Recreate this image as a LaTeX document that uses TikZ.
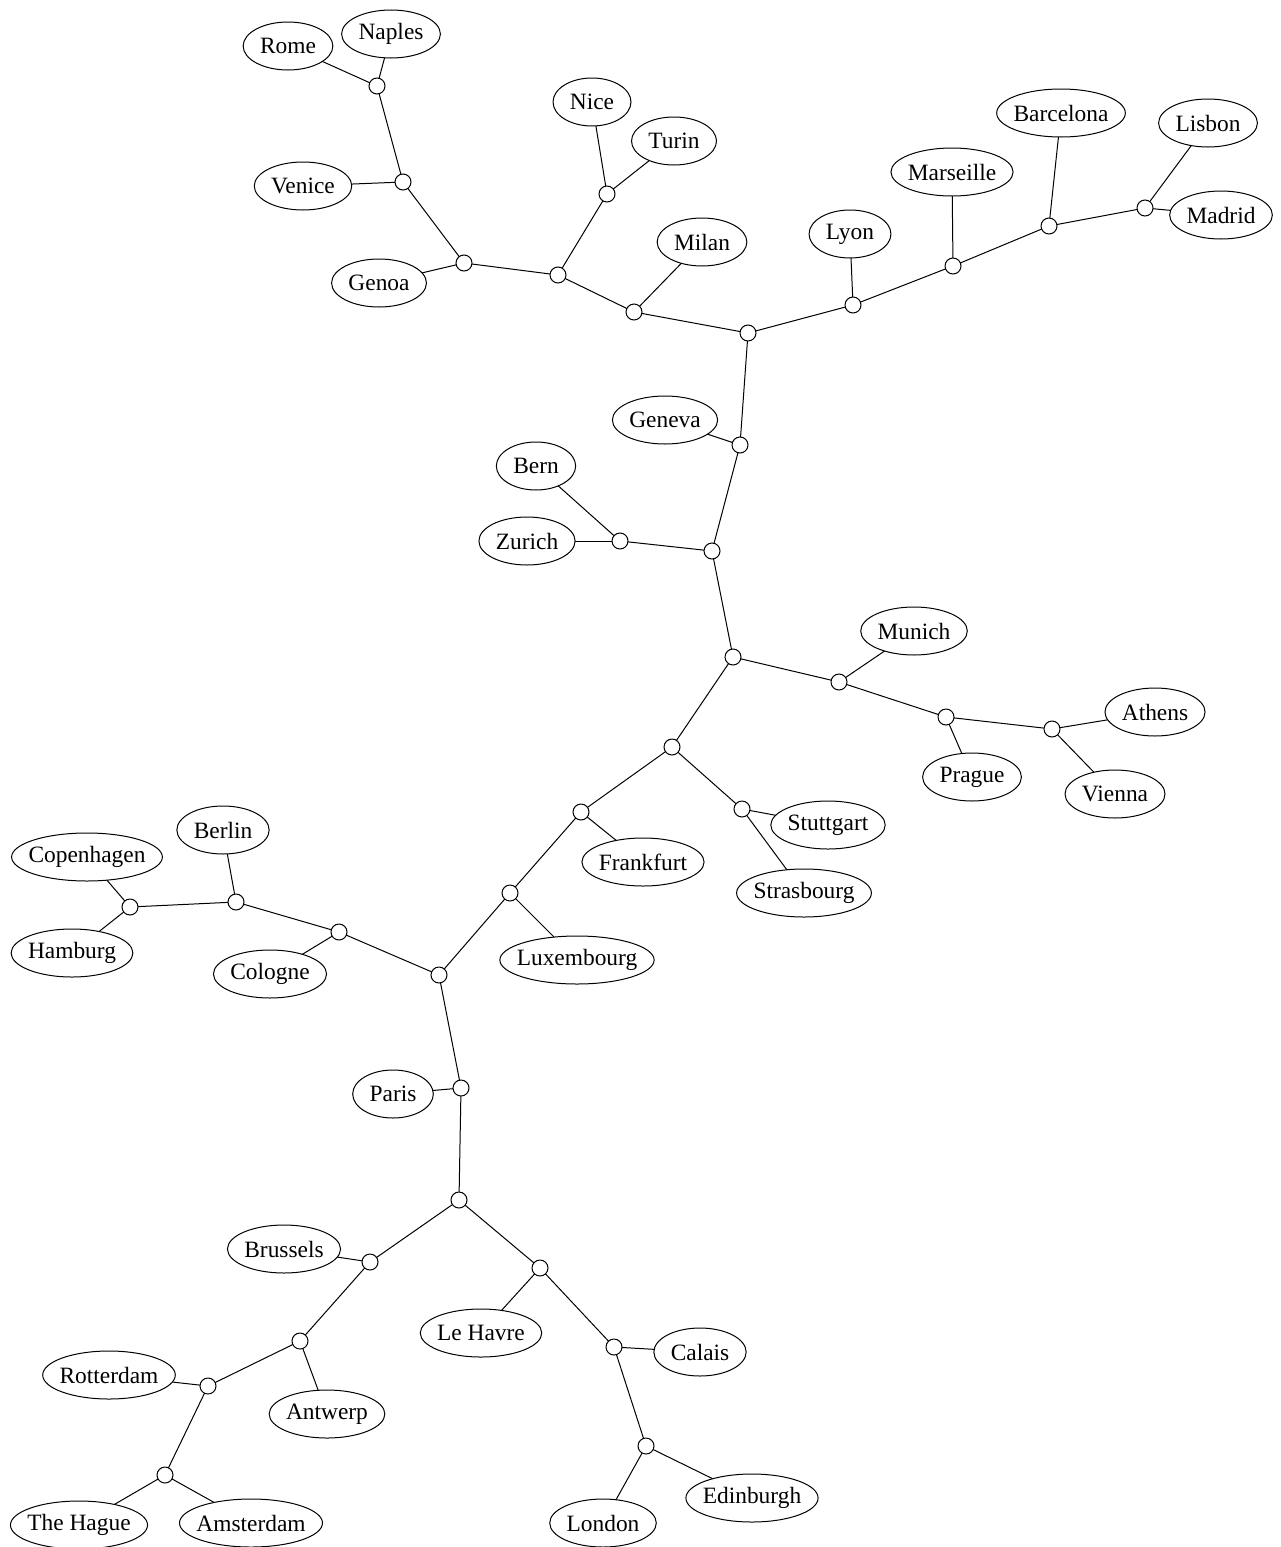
\documentclass[tikz,border=0pt]{standalone}
\usepackage{fontspec}
\setmainfont{Liberation Serif}
\usetikzlibrary{calc}
\pgfdeclarelayer{edges}
\pgfdeclarelayer{rims}
\pgfsetlayers{edges,rims,main}
\begin{document}
\begin{tikzpicture}[x=0.5pt,y=-0.5pt,
  cityst/.style={rectangle, inner xsep=8.25pt, inner ysep=0pt,
     minimum height=24pt, font=\fontsize{11.7pt}{14pt}\selectfont},
  rim/.style={draw, fill=white, line width=0.5pt},
  junc/.style={circle, draw, fill=white, line width=0.5pt, inner sep=0pt, minimum size=8pt},
  link/.style={line width=0.5pt}]
\useasboundingbox (0,0) rectangle (1280,1547);
% cities
\foreach \nm/\pos/\txt in {rome/{288,46}/Rome, naples/{391,34}/Naples, venice/{303,186}/Venice,
  genoa/{379,283}/Genoa, nice/{592,102}/Nice, turin/{674,141}/Turin, milan/{702,242}/Milan,
  lyon/{850,234}/Lyon, marseille/{952,172}/Marseille, barcelona/{1061,113}/Barcelona,
  lisbon/{1208,123}/Lisbon, madrid/{1221,215}/Madrid, geneva/{665,420}/Geneva,
  bern/{536,466}/Bern, zurich/{527,541}/Zurich, munich/{914,631}/Munich,
  athens/{1155,712}/Athens, prague/{972,777}/Prague, vienna/{1115,794}/Vienna,
  stuttgart/{828,825}/Stuttgart, frankfurt/{643,862}/Frankfurt, strasbourg/{804,893}/Strasbourg,
  luxembourg/{577,960}/Luxembourg, berlin/{223,830}/Berlin, copenhagen/{87,857}/Copenhagen,
  hamburg/{72,953}/Hamburg, cologne/{270,974}/Cologne, paris/{393,1094}/Paris,
  brussels/{284,1249}/Brussels, lehavre/{481,1333}/Le Havre, calais/{700,1352}/Calais,
  rotterdam/{109,1375}/Rotterdam, antwerp/{327,1414}/Antwerp, thehague/{79,1525}/The Hague,
  amsterdam/{251,1523}/Amsterdam, london/{603,1523}/London, edinburgh/{752,1498}/Edinburgh}
{
  \node[cityst] (\nm) at (\pos) {\txt};
  \begin{pgfonlayer}{rims}
  \draw[rim] let \p1=($(\nm.east)-(\nm.west)$) in (\nm.center) ellipse [x radius=0.5*\x1, y radius=12pt];
  \end{pgfonlayer}
}
% junctions
\foreach \nm/\pos in {j1/{377,86}, j2/{403,182}, j3/{464,263}, j4/{558,275}, j5/{607,194},
  j6/{634,312}, j7/{748,333}, j8/{853,305}, j9/{740,445}, j10/{953,266}, j11/{1049,226},
  j12/{1145,208}, j13/{712,551}, j14/{620,541}, j15/{733,657}, j16/{839,682}, j17/{672,747},
  j18/{946,717}, j19/{1052,729}, j20/{742,809}, j21/{581,812}, j22/{510,893}, j23/{439,975},
  j24/{339,932}, j25/{461,1088}, j26/{236,902}, j27/{130,907}, j28/{459,1200}, j29/{370,1262},
  j30/{540,1268}, j31/{300,1341}, j32/{208,1386}, j33/{165,1475}, j34/{614,1347}, j35/{646,1446}}
  \node[junc] (\nm) at (\pos) {};
% connectors
\begin{pgfonlayer}{edges}
\foreach \a/\b in {j1/rome, j1/naples, j1/j2, j2/venice, j2/j3, j3/genoa, j3/j4,
  j4/j5, j4/j6, j5/nice, j5/turin, j6/milan, j6/j7, j7/j8, j7/j9, j8/lyon, j8/j10,
  j10/marseille, j10/j11, j11/barcelona, j11/j12, j12/lisbon, j12/madrid,
  j9/geneva, j9/j13, j13/j14, j13/j15, j14/bern, j14/zurich, j15/j16, j15/j17,
  j16/munich, j16/j18, j18/prague, j18/j19, j19/athens, j19/vienna,
  j17/j20, j17/j21, j20/stuttgart, j20/strasbourg, j21/frankfurt, j21/j22,
  j22/luxembourg, j22/j23, j23/j24, j23/j25, j24/cologne, j24/j26, j26/berlin, j26/j27,
  j27/copenhagen, j27/hamburg, j25/paris, j25/j28, j28/j29, j28/j30,
  j29/brussels, j29/j31, j31/antwerp, j31/j32, j32/rotterdam, j32/j33,
  j33/thehague, j33/amsterdam, j30/lehavre, j30/j34, j34/calais, j34/j35,
  j35/london, j35/edinburgh}
  \draw[link] (\a.center) -- (\b.center);
\end{pgfonlayer}
\end{tikzpicture}
\end{document}
